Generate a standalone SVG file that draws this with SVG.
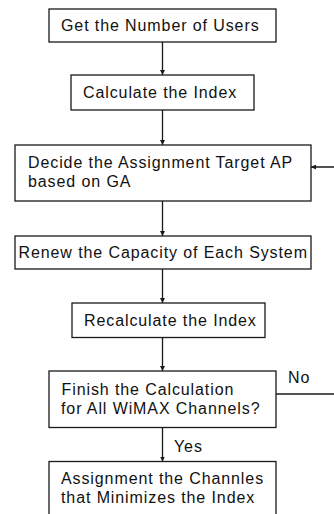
<svg xmlns="http://www.w3.org/2000/svg" width="334" height="514" viewBox="0 0 334 514">
<style>
.b{fill:#fff;stroke:#1a1a1a;stroke-width:1.3}
text{font-family:"Liberation Sans",Arial,sans-serif;font-size:16px;fill:#111;letter-spacing:0.9px}
.c{fill:none;stroke:#1a1a1a;stroke-width:1.3}
</style>
<defs>
<marker id="ah" viewBox="0 0 8 8" refX="8" refY="4" markerWidth="5" markerHeight="5" markerUnits="userSpaceOnUse" orient="auto"><path d="M0,0 L8,4 L0,8 Z" fill="#1a1a1a"/></marker>
</defs>
<rect width="334" height="514" fill="#fff"/>
<g id="connectors">
<path class="c" d="M162.5,42 V75" marker-end="url(#ah)"/>
<path class="c" d="M162.5,110 V145" marker-end="url(#ah)"/>
<path class="c" d="M162.5,201 V236" marker-end="url(#ah)"/>
<path class="c" d="M162.5,269 V303" marker-end="url(#ah)"/>
<path class="c" d="M162.5,337.5 V371" marker-end="url(#ah)"/>
<path class="c" d="M162.5,427.5 V461.5" marker-end="url(#ah)"/>
<path class="c" d="M276,394 H336 V167 H311" marker-end="url(#ah)"/>
<text x="174" y="451.5">Yes</text>
<text x="288" y="383">No</text>
</g>
<g id="n1"><rect class="b" x="49" y="9" width="227" height="33"/><text x="61" y="31">Get the Number of Users</text></g>
<g id="n2"><rect class="b" x="71" y="75" width="183" height="35"/><text x="83" y="98">Calculate the Index</text></g>
<g id="n3"><rect class="b" x="15" y="145" width="296" height="56"/><text x="28" y="168">Decide the Assignment Target AP</text><text x="28" y="186.5">based on GA</text></g>
<g id="n4"><rect class="b" x="15" y="236" width="296" height="33"/><text x="18.5" y="258">Renew the Capacity of Each System</text></g>
<g id="n5"><rect class="b" x="72" y="303" width="193" height="34.5"/><text x="84" y="325.5">Recalculate the Index</text></g>
<g id="n6"><rect class="b" x="49" y="371" width="227" height="56.5"/><text x="61.5" y="395">Finish the Calculation</text><text x="61" y="413.5">for All WiMAX Channels?</text></g>
<g id="n7"><rect class="b" x="49" y="461.5" width="227" height="60"/><text x="61" y="484">Assignment the Channles</text><text x="61" y="502.5">that Minimizes the Index</text></g>
</svg>
